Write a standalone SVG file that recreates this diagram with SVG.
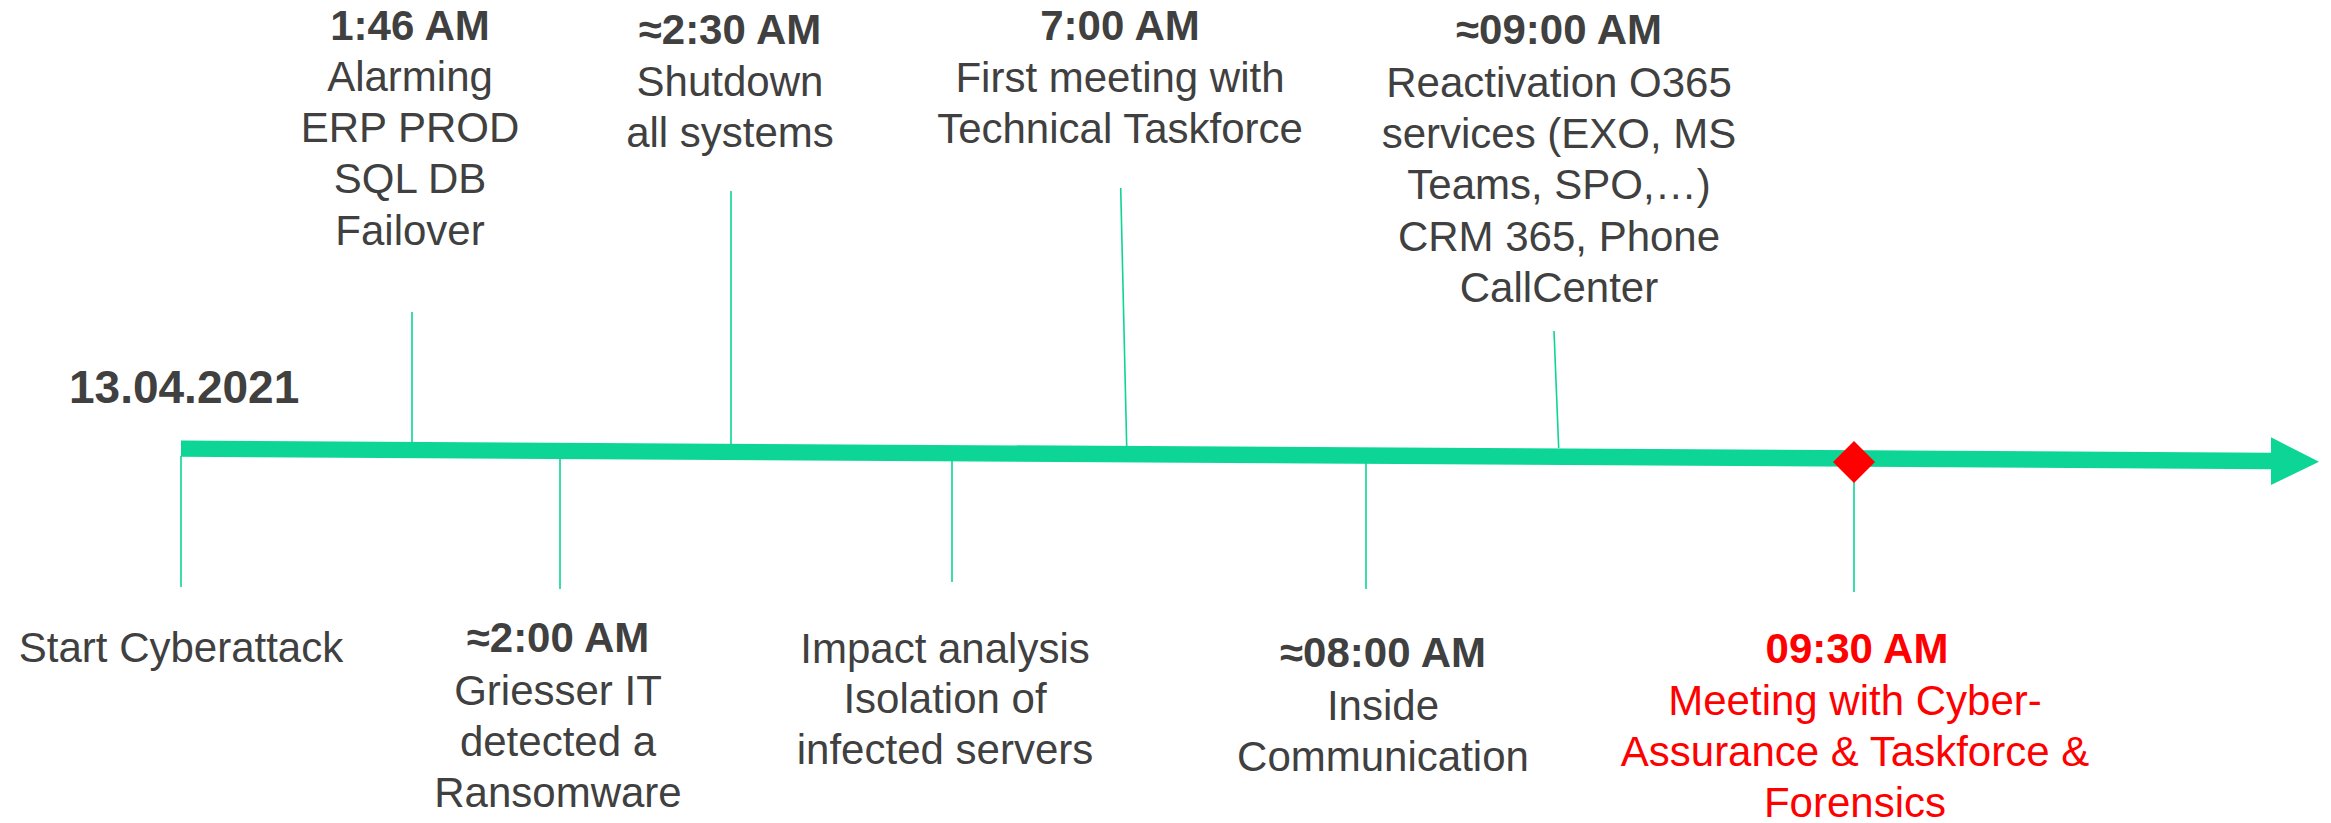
<svg xmlns="http://www.w3.org/2000/svg" width="2331" height="823" viewBox="0 0 2331 823">
  <style>
    text { font-family: "Liberation Sans", Arial, sans-serif; font-size: 42px; fill: #404040; text-anchor: middle; }
    .t { font-weight: bold; }
    .date { font-weight: bold; font-size: 46px; text-anchor: start; }
    .hot { fill: #FF0000; }
    .tick { stroke: #0CD596; stroke-width: 1.6; fill: none; }
  </style>
  <rect width="2331" height="823" fill="#FFFFFF"/>

  <!-- timeline axis and tick connectors -->
  <g id="connectors">
    <polygon id="axis" points="181,440.5 2271,452.7 2271,437.3 2319,461.7 2271,485 2271,469.3 181,456.7" fill="#0CD596"/>
    <line class="tick" x1="412" y1="312" x2="412" y2="442"/>
    <line class="tick" x1="731" y1="191" x2="731" y2="444"/>
    <line class="tick" x1="1120.7" y1="188" x2="1126.7" y2="446"/>
    <line class="tick" x1="1554" y1="331" x2="1558.7" y2="448"/>
    <line class="tick" x1="181" y1="456" x2="181" y2="587"/>
    <line class="tick" x1="560" y1="458" x2="560" y2="589"/>
    <line class="tick" x1="952" y1="461" x2="952" y2="582"/>
    <line class="tick" x1="1366" y1="463" x2="1366" y2="589"/>
    <line class="tick" x1="1854" y1="470" x2="1854" y2="592"/>
  </g>

  <g id="date">
    <text class="date" x="69" y="403">13.04.2021</text>
  </g>

  <g id="ev-0146">
    <text class="t" x="410" y="40">1:46 AM</text>
    <text x="410" y="91">Alarming</text>
    <text x="410" y="142">ERP PROD</text>
    <text x="410" y="193">SQL DB</text>
    <text x="410" y="245">Failover</text>
  </g>

  <g id="ev-0230">
    <text class="t" x="730" y="44">≈2:30 AM</text>
    <text x="730" y="96">Shutdown</text>
    <text x="730" y="147">all systems</text>
  </g>

  <g id="ev-0700">
    <text class="t" x="1120" y="40">7:00 AM</text>
    <text x="1120" y="92">First meeting with</text>
    <text x="1120" y="143">Technical Taskforce</text>
  </g>

  <g id="ev-0900">
    <text class="t" x="1559" y="44">≈09:00 AM</text>
    <text x="1559" y="97">Reactivation O365</text>
    <text x="1559" y="148">services (EXO, MS</text>
    <text x="1559" y="199">Teams, SPO,…)</text>
    <text x="1559" y="251">CRM 365, Phone</text>
    <text x="1559" y="302">CallCenter</text>
  </g>

  <g id="ev-start">
    <text x="181" y="662">Start Cyberattack</text>
  </g>

  <g id="ev-0200">
    <text class="t" x="558" y="652">≈2:00 AM</text>
    <text x="558" y="705">Griesser IT</text>
    <text x="558" y="756">detected a</text>
    <text x="558" y="807">Ransomware</text>
  </g>

  <g id="ev-impact">
    <text x="945" y="663">Impact analysis</text>
    <text x="945" y="713">Isolation of</text>
    <text x="945" y="764">infected servers</text>
  </g>

  <g id="ev-0800">
    <text class="t" x="1383" y="667">≈08:00 AM</text>
    <text x="1383" y="720">Inside</text>
    <text x="1383" y="771">Communication</text>
  </g>

  <g id="ev-0930">
    <polygon points="1854,441 1875,462 1854,483 1833,462" fill="#FF0000"/>
    <text class="t hot" x="1857" y="663">09:30 AM</text>
    <text class="hot" x="1855" y="715">Meeting with Cyber-</text>
    <text class="hot" x="1855" y="766">Assurance &amp; Taskforce &amp;</text>
    <text class="hot" x="1855" y="817">Forensics</text>
  </g>
</svg>
